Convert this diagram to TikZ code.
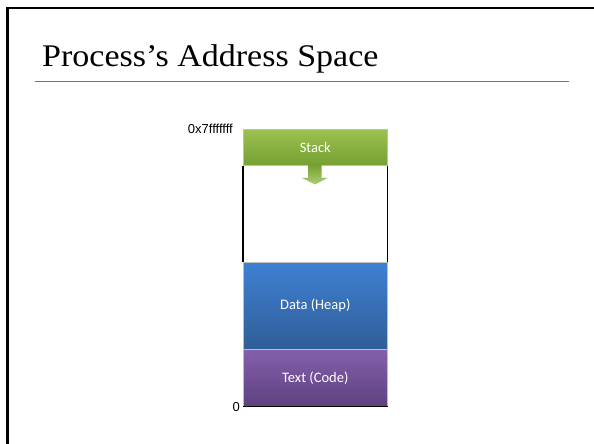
\documentclass[tikz,border=0pt]{standalone}
\usepackage{fontspec}
\setmainfont{Liberation Serif}
\newfontfamily\calib{Carlito}
\newfontfamily\arialf{Liberation Sans}
\usetikzlibrary{positioning}
\definecolor{titlerule}{HTML}{4A7EBB}
\definecolor{stacktop}{HTML}{9CC150}
\definecolor{stackbot}{HTML}{75A032}
\definecolor{datatop}{HTML}{3F80D2}
\definecolor{databot}{HTML}{2F5E98}
\definecolor{texttop}{HTML}{8460AC}
\definecolor{textbot}{HTML}{5F4180}
\tikzset{
  seg/.style={draw=black!25, line width=0.6pt, minimum width=144pt, inner sep=0pt, anchor=north west,
    font=\calib\fontsize{14.5}{16}\selectfont, text=white},
  addr/.style={font=\arialf\fontsize{13}{15}\selectfont, inner sep=0pt},
}
\begin{document}
\begin{tikzpicture}[x=1pt,y=1pt]
\clip (0,0) rectangle (594,444);
\useasboundingbox (0,0) rectangle (594,444);
\fill[white] (0,0) rectangle (594,444);
% slide frame
\draw[line width=2.6pt] (7.5,-10) -- (7.5,436) -- (610,436);
% title
\node[anchor=base west, inner sep=0pt, font=\fontsize{31.5}{34}\selectfont] (title) at (42,377) {\scalebox{1.08}[1]{Process's Address Space}};
\coordinate (rl) at (35,362.5);
\coordinate (rr) at (569,362.5);
\draw[titlerule, line width=1.3pt] (rl) -- (rr);
% segments
\node[seg, minimum height=36pt, top color=stacktop, bottom color=stackbot] (stack) at (243,315) {Stack};
\node[seg, minimum height=87pt, top color=datatop, bottom color=databot] (data) at (243,182) {Data (Heap)};
\node[seg, minimum height=57pt, top color=texttop, bottom color=textbot] (text) at (243,95) {Text (Code)};
% free region sides
\draw[line width=1.1pt] (stack.south west) -- (data.north west);
\draw[line width=1.1pt] (stack.south east) -- (data.north east);
\draw[line width=1.4pt] (text.south west) -- (text.south east);
% growth arrow
\coordinate (ar) at (315,279);
\shade[top color=stackbot, bottom color=stacktop!80!white]
  ([xshift=-7pt]ar) -- ++(0,-13) -- ++(-6,0) -- (315,259.5) -- (327.5,266) -- ++(-6,0) -- ++(0,13) -- cycle;
% address labels
\node[addr, anchor=base east] (hi) at (233,310) {0x7fffffff};
\node[addr, anchor=base east] (lo) at (240,32) {0};
\end{tikzpicture}
\end{document}
